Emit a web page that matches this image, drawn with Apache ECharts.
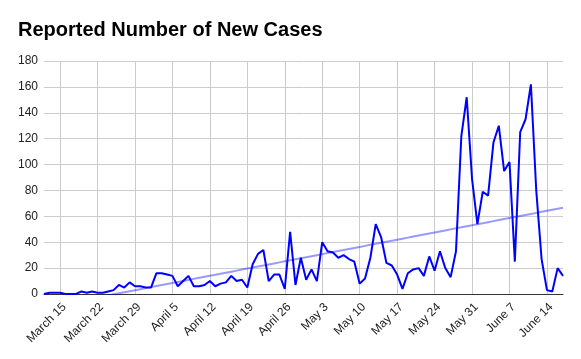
<!DOCTYPE html>
<html>
<head>
<meta charset="utf-8">
<script src="https://cdn.jsdelivr.net/npm/echarts@6/dist/echarts.min.js"></script>
<style>
html,body{margin:0;padding:0;background:#fff;}
#chart{width:581px;height:359px;}
</style>
</head>
<body>
<div id="chart"></div>
<script>
// Dates: March 12 .. June 17 (daily)
const startMonth = 2; // March (0-based)
const startDay = 12;
const dayCount = 98;
const monthNames = ['January','February','March','April','May','June','July'];

const newCases = [
  0, 1, 1, 1, 0, 0, 0, 2, 1, 2,
  1, 1, 2, 3, 7, 5, 9, 6, 6, 5,
  5, 16, 16, 15, 14, 6, 10, 14, 6, 6,
  7, 10, 6, 8, 9, 14, 10, 11, 5, 23,
  31, 34, 10, 15, 15, 4, 48, 7, 28, 11,
  19, 10, 40, 33, 32, 28, 30, 27, 25, 8,
  12, 28, 54, 44, 24, 22, 15, 4, 16, 19,
  20, 14, 29, 18, 33, 20, 13, 33, 122, 152,
  89, 54, 79, 76, 117, 130, 95, 102, 25, 125,
  135, 162, 80, 27, 3, 2, 20, 14
];

const yTicks = { min: 0, max: 180, interval: 20 };
const firstLabelIndex = 3; // March 15
const labelStep = 7;

const categories = [];
{
  const d = new Date(2020, startMonth, startDay);
  for (let i = 0; i < dayCount; i++) {
    categories.push(monthNames[d.getMonth()] + ' ' + d.getDate());
    d.setDate(d.getDate() + 1);
  }
}

// Linear trendline (least squares) from the data
const n = newCases.length;
let sx = 0, sy = 0, sxx = 0, sxy = 0;
for (let i = 0; i < n; i++) { sx += i; sy += newCases[i]; sxx += i * i; sxy += i * newCases[i]; }
const slope = (n * sxy - sx * sy) / (n * sxx - sx * sx);
const intercept = (sy - slope * sx) / n;
const trend = newCases.map((_, i) => +(intercept + slope * i).toFixed(3));

const showIdx = (idx) => idx >= firstLabelIndex && (idx - firstLabelIndex) % labelStep === 0;

const chart = echarts.init(document.getElementById('chart'), null, { renderer: 'canvas' });
chart.setOption({
  animation: false,
  backgroundColor: '#fff',
  title: {
    text: 'Reported Number of New Cases',
    left: 18, top: 20, padding: 0,
    textStyle: { fontFamily: 'Liberation Sans, Arial', fontWeight: 'bold', fontSize: 20, color: '#000' }
  },
  grid: { left: 44, right: 18, top: 61, bottom: 65, containLabel: false },
  xAxis: {
    type: 'category',
    data: categories,
    boundaryGap: false,
    axisLine: { lineStyle: { color: '#333', width: 1 } },
    axisTick: { show: false },
    axisLabel: {
      interval: showIdx,
      rotate: 45,
      verticalAlign: 'top',
      fontFamily: 'Liberation Sans, Arial',
      fontSize: 12,
      color: '#222',
      margin: 7
    },
    splitLine: { show: true, interval: showIdx, lineStyle: { color: '#cccccc', width: 1 } }
  },
  yAxis: {
    type: 'value',
    min: yTicks.min, max: yTicks.max, interval: yTicks.interval,
    axisLine: { show: false },
    axisTick: { show: false },
    axisLabel: { fontFamily: 'Liberation Sans, Arial', fontSize: 12, color: '#222', margin: 6 },
    splitLine: { lineStyle: { color: '#cccccc', width: 1 } }
  },
  series: [
    {
      name: 'Trend',
      type: 'line',
      data: trend,
      showSymbol: false,
      clip: true,
      lineStyle: { color: '#0000ff', width: 2, opacity: 0.4 },
      z: 2
    },
    {
      name: 'New Cases',
      type: 'line',
      data: newCases,
      showSymbol: false,
      clip: true,
      lineStyle: { color: '#0000ff', width: 2 },
      z: 3
    }
  ]
});
</script>
</body>
</html>
